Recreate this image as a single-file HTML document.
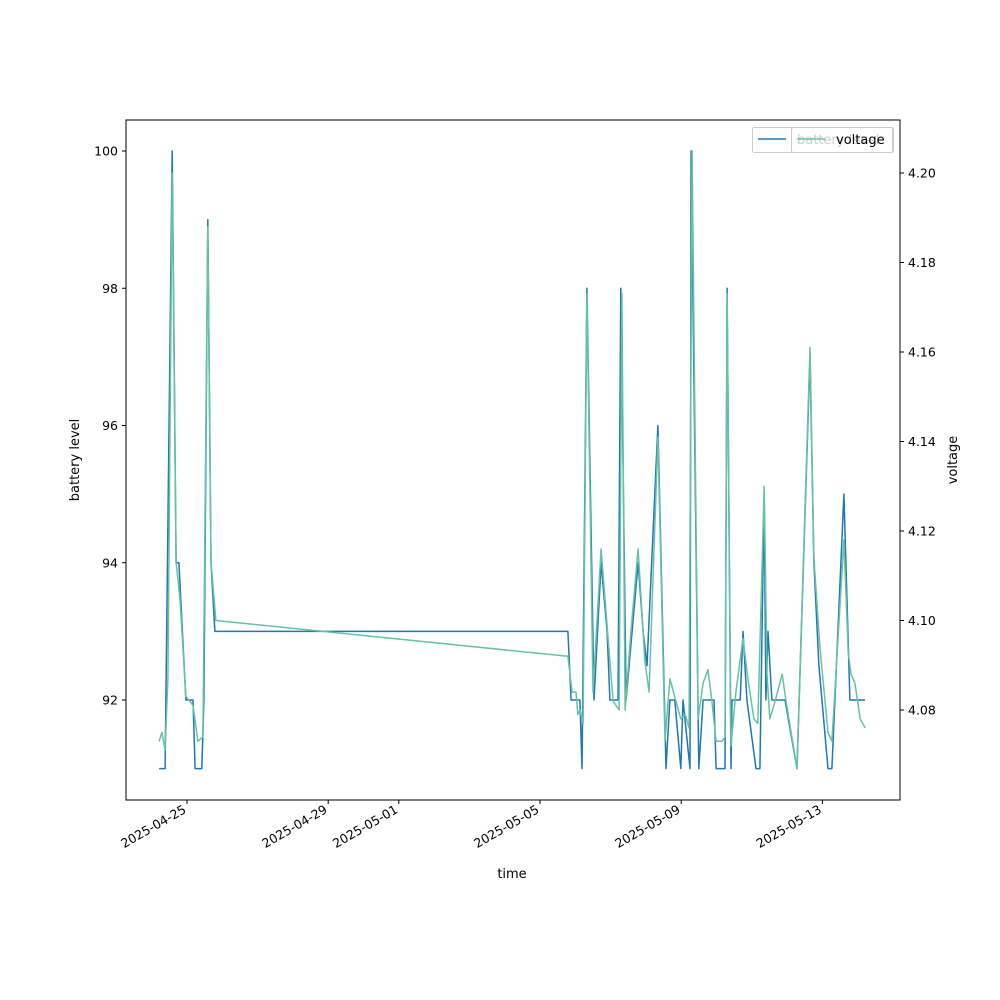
<!DOCTYPE html>
<html><head><meta charset="utf-8"><style>
html,body{margin:0;padding:0;background:#fff}
svg{display:block;font-family:"DejaVu Sans","Liberation Sans",sans-serif}
</style></head><body>
<svg id="chart" width="1000" height="1000" viewBox="0 0 1000 1000" xmlns="http://www.w3.org/2000/svg">
<rect x="0" y="0" width="1000" height="1000" fill="#fff"/>
<g id="plot"></g>
<g id="axes"></g>
<g id="legend"></g>
</svg>
<script>
// days since 2025-04-25
const batteryTimes=[-0.79,-0.62,-0.42,-0.31,-0.23,-0.03,0.17,0.23,0.42,0.48,0.59,0.68,0.79,10.79,10.88,11.13,11.19,11.33,11.53,11.73,11.9,11.98,12.21,12.29,12.44,12.61,12.78,12.92,13.03,13.34,13.57,13.68,13.82,13.99,14.05,14.25,14.28,14.5,14.62,14.93,14.99,15.24,15.3,15.41,15.44,15.67,15.75,15.86,16.12,16.23,16.35,16.4,16.46,16.57,16.94,17.28,17.65,17.76,17.9,18.16,18.27,18.61,18.78,19.21];
const batteryLevels=[91,91,100,94,94,92,92,91,91,92,99,94,93,93,92,92,91,98,92,94,93,92,92,98,92,93,94,93,92.5,96,91,92,92,91,92,91,100,91,92,92,91,91,98,91,92,92,93,92,91,91,95,92,93,92,92,91,97,94,92.5,91,91,95,92,92];
const voltageTimes=[-0.79,-0.71,-0.62,-0.54,-0.42,-0.31,-0.2,-0.03,0.08,0.17,0.31,0.45,0.59,0.68,0.82,10.79,10.91,11.02,11.07,11.13,11.22,11.33,11.5,11.73,11.93,12.07,12.24,12.32,12.41,12.58,12.78,12.97,13.09,13.34,13.54,13.68,13.85,13.99,14.11,14.22,14.31,14.48,14.62,14.76,14.87,14.99,15.16,15.24,15.3,15.41,15.55,15.75,15.89,16.06,16.17,16.35,16.43,16.51,16.66,16.86,16.97,17.28,17.65,17.76,17.93,18.16,18.27,18.61,18.73,18.81,18.92,19.07,19.21];
const voltageValues=[4.073,4.075,4.071,4.087,4.200,4.113,4.105,4.083,4.082,4.081,4.073,4.074,4.188,4.113,4.100,4.092,4.084,4.084,4.079,4.080,4.077,4.173,4.084,4.116,4.096,4.082,4.080,4.173,4.080,4.098,4.116,4.091,4.084,4.141,4.073,4.087,4.082,4.078,4.079,4.076,4.205,4.078,4.086,4.089,4.082,4.073,4.073,4.074,4.173,4.072,4.084,4.096,4.087,4.078,4.077,4.130,4.088,4.078,4.082,4.088,4.082,4.067,4.161,4.114,4.094,4.075,4.073,4.118,4.093,4.088,4.086,4.078,4.076];
const xTickDays=[0,4,6,10,14,18];
const xTickLabels=["2025-04-25","2025-04-29","2025-05-01","2025-05-05","2025-05-09","2025-05-13"];
const leftTicks=[92,94,96,98,100];
const rightTicks=[4.08,4.10,4.12,4.14,4.16,4.18,4.20];

const NS="http://www.w3.org/2000/svg";
const L=126,R=900,T=120,B=800;
const xS=d=>187+d*35.3;
const yL=v=>700-(v-92)*68.625;
const yR=v=>710-(v-4.08)/0.02*89.5;
function mk(tag,attrs,parent){const e=document.createElementNS(NS,tag);for(const k in attrs)e.setAttribute(k,attrs[k]);parent.appendChild(e);return e;}
const plot=document.getElementById('plot'),axes=document.getElementById('axes'),leg=document.getElementById('legend');

const bl=mk('polyline',{points:batteryTimes.map((t,i)=>xS(t).toFixed(1)+','+yL(batteryLevels[i]).toFixed(1)).join(' '),fill:'none',stroke:'#1f77b4','stroke-width':1.5,'stroke-linejoin':'round'},plot);


const vl=mk('polyline',{points:voltageTimes.map((t,i)=>xS(t).toFixed(1)+','+yR(voltageValues[i]).toFixed(1)).join(' '),fill:'none',stroke:'#66c2a5','stroke-width':1.5,'stroke-linejoin':'round'},plot);



const fr=mk('rect',{x:L,y:T,width:R-L,height:B-T,fill:'none',stroke:'#000','stroke-width':1},axes);



xTickDays.forEach((d,i)=>{const x=xS(d);
 mk('line',{x1:x,y1:B,x2:x,y2:B+4,stroke:'#000'},axes);
 const t=mk('text',{x:x,y:B+12,'font-size':12.5,'text-anchor':'end',transform:`rotate(-30 ${x} ${B+12})`},axes);
 
 
 t.textContent=xTickLabels[i];});
leftTicks.forEach(v=>{const y=yL(v);
 mk('line',{x1:L-4,y1:y,x2:L,y2:y,stroke:'#000'},axes);
 const t=mk('text',{x:L-8,y:y+4.5,'font-size':12.5,'text-anchor':'end'},axes);
 
 
 t.textContent=String(v);});
rightTicks.forEach(v=>{const y=yR(v);
 mk('line',{x1:R,y1:y,x2:R+4,y2:y,stroke:'#000'},axes);
 const t=mk('text',{x:R+8,y:y+4.5,'font-size':12.5},axes);
 
 
 t.textContent=v.toFixed(2);});
const xt=mk('text',{x:512,y:878,'font-size':13,'text-anchor':'middle'},axes);


xt.textContent='time';
const yt=mk('text',{x:79,y:460,'font-size':13,'text-anchor':'middle',transform:'rotate(-90 79 460)'},axes);


yt.textContent='battery level';
const yt2=mk('text',{x:957,y:460,'font-size':13,'text-anchor':'middle',transform:'rotate(-90 957 460)'},axes);


yt2.textContent='voltage';

// legends
const b1=mk('rect',{x:752.5,y:127.5,width:141,height:25,rx:2,fill:'#fff','fill-opacity':0.8,stroke:'#ccc'},leg);


mk('line',{x1:758,y1:139,x2:786,y2:139,stroke:'#1f77b4','stroke-width':1.5},leg);
const l1=mk('text',{x:797,y:144,'font-size':13},leg);


l1.textContent='battery level';
const b2=mk('rect',{x:791.5,y:127.5,width:101,height:25,rx:2,fill:'#fff','fill-opacity':0.8,stroke:'#ccc'},leg);


mk('line',{x1:797,y1:139,x2:825,y2:139,stroke:'#66c2a5','stroke-width':1.5},leg);
const l2=mk('text',{x:836,y:144,'font-size':13},leg);


l2.textContent='voltage';
</script>
</body></html>
